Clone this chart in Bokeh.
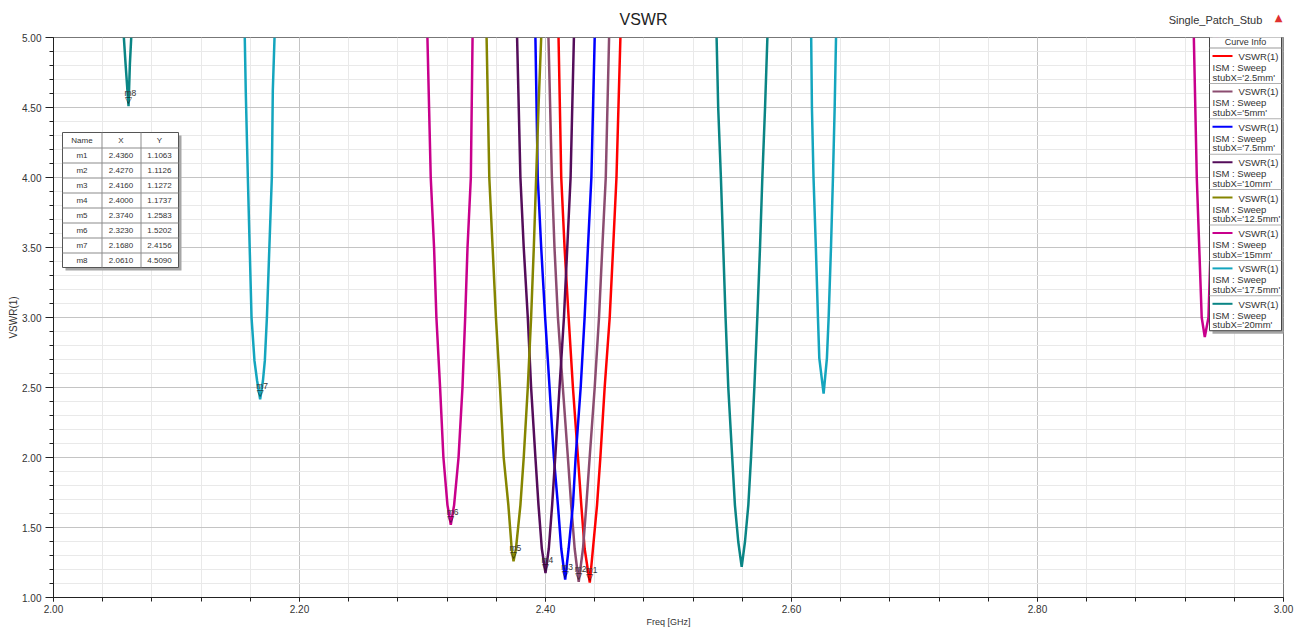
from bokeh.plotting import figure
from bokeh.layouts import column
from bokeh.models import FixedTicker, NumeralTickFormatter, Label, BoxAnnotation, ColumnDataSource
from bokeh.core.properties import value
from bokeh.embed import file_html
from bokeh.resources import INLINE

nan = float("nan")

# ---------------- data ----------------
freq_2p5mm = [2.4106, 2.4128, 2.4155, 2.4188, 2.4223, 2.4264, 2.4291, 2.4318, 2.4360,
              2.4386, 2.4419, 2.4446, 2.4481, 2.4522, 2.4550, 2.4577, 2.4609]
vswr_2p5mm = [5.00, 4.00, 3.50, 3.00, 2.50, 2.00, 1.66, 1.35, 1.1063,
              1.35, 1.66, 2.00, 2.50, 3.00, 3.50, 4.00, 5.00]

freq_5mm = [2.4024, 2.4052, 2.4073, 2.4101, 2.4141, 2.4182, 2.4209, 2.4237, 2.4270,
            2.4305, 2.4332, 2.4359, 2.4400, 2.4435, 2.4462, 2.4490, 2.4517]
vswr_5mm = [5.00, 4.00, 3.50, 3.00, 2.50, 2.00, 1.66, 1.35, 1.1126,
            1.35, 1.66, 2.00, 2.50, 3.00, 3.50, 4.00, 5.00]

freq_7p5mm = [2.3918, 2.3937, 2.3965, 2.3997, 2.4033, 2.4068, 2.4101, 2.4128, 2.4160,
              2.4188, 2.4223, 2.4245, 2.4286, 2.4318, 2.4345, 2.4373, 2.4400]
vswr_7p5mm = [5.00, 4.00, 3.50, 3.00, 2.50, 2.00, 1.66, 1.35, 1.1272,
              1.35, 1.66, 2.00, 2.50, 3.00, 3.50, 4.00, 5.00]

freq_10mm = [2.3769, 2.3796, 2.3823, 2.3856, 2.3883, 2.3918, 2.3943, 2.3970, 2.4000,
             2.4027, 2.4054, 2.4079, 2.4114, 2.4150, 2.4177, 2.4204, 2.4231]
vswr_10mm = [5.00, 4.00, 3.50, 3.00, 2.50, 2.00, 1.66, 1.35, 1.1737,
             1.35, 1.66, 2.00, 2.50, 3.00, 3.50, 4.00, 5.00]

freq_12p5mm = [2.3521, 2.3543, 2.3570, 2.3597, 2.3630, 2.3660, 2.3698, 2.3725, 2.3740,
               2.3760, 2.3796, 2.3823, 2.3856, 2.3883, 2.3905, 2.3924, 2.3943, 2.3965]
vswr_12p5mm = [5.00, 4.00, 3.50, 3.00, 2.50, 2.00, 1.66, 1.35, 1.2583,
               1.35, 1.66, 2.00, 2.50, 3.00, 3.50, 4.00, 4.50, 5.00]

freq_15mm = [2.3040, 2.3067, 2.3094, 2.3113, 2.3143, 2.3170, 2.3203, 2.3230,
             2.3257, 2.3293, 2.3325, 2.3347, 2.3366, 2.3393, 2.3407,
             nan,
             2.9271, 2.9295, 2.9335, 2.9360, 2.9390, 2.9425, 2.9460]
vswr_15mm = [5.00, 4.00, 3.50, 3.00, 2.50, 2.00, 1.66, 1.5202,
             1.66, 2.00, 2.50, 3.00, 3.50, 4.00, 5.00,
             nan,
             5.00, 4.00, 3.00, 2.86, 3.00, 4.00, 5.00]

freq_17p5mm = [2.1555, 2.1563, 2.1580, 2.1610, 2.1634, 2.1655, 2.1680, 2.1703, 2.1718,
               2.1735, 2.1775, 2.1783, 2.1797,
               nan,
               2.6160, 2.6166, 2.6179, 2.6198, 2.6215, 2.6226, 2.6261,
               2.6288, 2.6302, 2.6321, 2.6337, 2.6351, 2.6362]
vswr_17p5mm = [5.00, 4.62, 4.00, 3.00, 2.69, 2.55, 2.4156, 2.55, 2.69,
               3.00, 4.00, 4.62, 5.00,
               nan,
               5.00, 4.50, 4.00, 3.50, 3.00, 2.71, 2.456,
               2.71, 3.00, 3.50, 4.00, 4.50, 5.00]

freq_20mm = [2.0572, 2.0586, 2.0610, 2.0621, 2.0632,
             nan,
             2.5391, 2.5404, 2.5426, 2.5445, 2.5464, 2.5486, 2.5518, 2.5540, 2.5567, 2.5595,
             2.5622, 2.5649, 2.5671, 2.5698, 2.5722, 2.5744, 2.5763, 2.5785, 2.5804]
vswr_20mm = [5.00, 4.81, 4.509, 4.81, 5.00,
             nan,
             5.00, 4.50, 4.00, 3.50, 3.00, 2.50, 2.00, 1.66, 1.40, 1.219,
             1.40, 1.66, 2.00, 2.50, 3.00, 3.50, 4.00, 4.50, 5.00]

series_labels = ["stubX='2.5mm'", "stubX='5mm'", "stubX='7.5mm'", "stubX='10mm'",
                 "stubX='12.5mm'", "stubX='15mm'", "stubX='17.5mm'", "stubX='20mm'"]
series_freq = [freq_2p5mm, freq_5mm, freq_7p5mm, freq_10mm,
               freq_12p5mm, freq_15mm, freq_17p5mm, freq_20mm]
series_vswr = [vswr_2p5mm, vswr_5mm, vswr_7p5mm, vswr_10mm,
               vswr_12p5mm, vswr_15mm, vswr_17p5mm, vswr_20mm]
series_colors = ["#FF0000", "#8B4C70", "#0000FF", "#540D5A",
                 "#858500", "#C8008C", "#14A5BE", "#0A8585"]

marker_names = ["m1", "m2", "m3", "m4", "m5", "m6", "m7", "m8"]
marker_x = [2.4360, 2.4270, 2.4160, 2.4000, 2.3740, 2.3230, 2.1680, 2.0610]
marker_y = [1.1063, 1.1126, 1.1272, 1.1737, 1.2583, 1.5202, 2.4156, 4.5090]

x_major_ticks = [2.0, 2.2, 2.4, 2.6, 2.8, 3.0]
x_minor_ticks = [round(2.0 + 0.04 * i, 2) for i in range(26)]
y_major_ticks = [1.0, 1.5, 2.0, 2.5, 3.0, 3.5, 4.0, 4.5, 5.0]
y_minor_ticks = [round(1.0 + 0.1 * i, 1) for i in range(41)]

X0, X1, Y0, Y1 = 2.0, 3.0, 1.0, 5.0

# ---------------- layout ----------------
W, H = 1300, 629
STRIP = 30                               # height of the header strip figure
FL, FT, FR, FB = 53, 37, 1283, 597      # frame edges in page px
FONT = "Liberation Sans"

# header strip (title texts) -------------------------------------------
top = figure(width=W, height=STRIP, output_backend="svg", toolbar_location=None,
             x_axis_location=None, y_axis_location=None,
             min_border_left=0, min_border_right=0, min_border_top=0, min_border_bottom=0,
             x_range=(0, 1), y_range=(0, 1))
top.outline_line_color = None
top.background_fill_color = "white"
top.border_fill_color = "white"
top.grid.visible = False

# main figure ------------------------------------------------------------
p = figure(width=W, height=H - STRIP, x_range=(X0, X1), y_range=(Y0, Y1),
           output_backend="svg", toolbar_location=None,
           min_border_left=FL, min_border_right=W - FR,
           min_border_top=FT - STRIP, min_border_bottom=H - FB)
p.background_fill_color = "white"
p.border_fill_color = "white"
p.outline_line_color = "#777777"
p.outline_line_width = 1

for ax, maj, mnr in ((p.xaxis[0], x_major_ticks, x_minor_ticks),
                     (p.yaxis[0], y_major_ticks, y_minor_ticks)):
    ax.ticker = FixedTicker(ticks=maj, minor_ticks=mnr)
    ax.formatter = NumeralTickFormatter(format="0.00")
    ax.major_label_text_font = FONT
    ax.major_label_text_font_size = "10px"
    ax.major_label_text_color = "#333333"
    ax.axis_line_color = "#222222"
    ax.major_tick_line_color = "#222222"
    ax.minor_tick_line_color = "#222222"
    ax.major_tick_in = 0
    ax.minor_tick_in = 0
    ax.axis_label_text_font = FONT
    ax.axis_label_text_font_style = "normal"
    ax.axis_label_text_color = "#333333"

p.xaxis.axis_label = "Freq [GHz]"
p.xaxis.axis_label_text_font_size = "9px"
p.xaxis.axis_label_standoff = 1
p.xaxis.major_tick_out = 4
p.xaxis.minor_tick_out = 4
p.xaxis.major_label_standoff = 3

p.yaxis.axis_label = "VSWR(1)"
p.yaxis.axis_label_text_font_size = "10px"
p.yaxis.axis_label_standoff = 0
p.yaxis.major_tick_out = 8
p.yaxis.minor_tick_out = 4
p.yaxis.major_label_standoff = 4

for g in (p.xgrid[0], p.ygrid[0]):
    g.grid_line_color = "#c4c4c4"
    g.grid_line_width = 1
    g.minor_grid_line_color = "#e9e9e9"
    g.minor_grid_line_width = 1

# ---------------- curves ----------------
for fx, vy, col in zip(series_freq, series_vswr, series_colors):
    p.line(fx, vy, line_color=col, line_width=2.5)

# markers
msrc = ColumnDataSource(dict(x=marker_x, y=marker_y, name=marker_names,
                             tri=["\u25bd"] * len(marker_names)))
p.text(x="x", y="y", text="tri", source=msrc, text_font=value("DejaVu Sans"),
       text_font_size="9px", text_color="#111111", text_align="center",
       text_baseline="middle", y_offset=-6)
p.text(x="x", y="y", text="name", source=msrc, text_font=value(FONT),
       text_font_size="8.5px", text_color="#333333", text_align="left",
       text_baseline="middle", x_offset=-4, y_offset=-13)


# annotations placed in canvas pixels of a given figure (page y minus its top)
def box(fig, yoff, l, t, r, b, fill, line=None, lw=1):
    fig.add_layout(BoxAnnotation(left=l, right=r, top=t - yoff, bottom=b - yoff,
                                 left_units="canvas", right_units="canvas",
                                 top_units="canvas", bottom_units="canvas",
                                 fill_color=fill, fill_alpha=1.0 if fill else 0.0,
                                 line_color=line, line_alpha=1.0 if line else 0.0,
                                 line_width=lw))


def label(fig, yoff, px, py, txt, size, color="#333333", align="left", font=FONT):
    fig.add_layout(Label(x=px, y=py - yoff, x_units="canvas", y_units="canvas", text=txt,
                         text_font=font, text_font_size=size, text_color=color,
                         text_align=align, text_baseline="middle"))


# ---------------- marker table ----------------
tl, tr, tt = 62, 178, 132
col_edges = [62, 101, 140, 178]
row_h = 15
nrows = len(marker_names) + 1
tb = tt + row_h * nrows
box(p, STRIP, tl + 3, tt + 3, tr + 3, tb + 3, "#a6a6a6")
box(p, STRIP, tl, tt, tr, tb, "#ffffff", "#555555", 1)
for c in col_edges[1:-1]:
    box(p, STRIP, c, tt, c + 1, tb, "#8c8c8c")
for r in range(1, nrows):
    yy = tt + r * row_h
    box(p, STRIP, tl, yy, tr, yy + 1, "#8c8c8c")
header = ["Name", "X", "Y"]
for j, htxt in enumerate(header):
    label(p, STRIP, (col_edges[j] + col_edges[j + 1]) / 2, tt + row_h / 2 + 0.5, htxt, "8px",
          align="center")
for i, (nm, mx, my) in enumerate(zip(marker_names, marker_x, marker_y)):
    cy = tt + (i + 1) * row_h + row_h / 2 + 0.5
    for j, t in enumerate([nm, "%.4f" % mx, "%.4f" % my]):
        label(p, STRIP, (col_edges[j] + col_edges[j + 1]) / 2, cy, t, "8px", align="center")

# ---------------- legend (Curve Info) ----------------
ll, lr, lt = 1209, 1281, 33
lhead = 47
ent_h = 35.4
lb = lhead + ent_h * len(series_labels)
box(p, STRIP, ll + 3, lt + 3, lr + 3, lb + 3, "#a6a6a6")
box(p, STRIP, ll, lt, lr, lb, "#ffffff", "#444444", 1)
label(p, STRIP, (ll + lr) / 2, 41.5, "Curve Info", "9px", align="center")
box(p, STRIP, ll, lhead, lr, lhead + 1, "#9a9a9a")
for k, (lab, col) in enumerate(zip(series_labels, series_colors)):
    et = lhead + k * ent_h
    if k > 0:
        box(p, STRIP, ll, et, lr, et + 1, "#b0b0b0")
    box(p, STRIP, 1212, et + 7.5, 1232, et + 9.5, col)
    label(p, STRIP, 1278, et + 9, "VSWR(1)", "9.5px", align="right")
    label(p, STRIP, 1212, et + 20, "ISM : Sweep", "9.5px")
    label(p, STRIP, 1212, et + 29.5, lab, "9.5px")

# ---------------- header texts ----------------
label(top, 0, 643, 19, "VSWR", "16px", color="#222222", align="center")
label(top, 0, 1215, 19, "Single_Patch_Stub", "11px", color="#333333", align="center")
label(top, 0, 1278, 17, "\u25b2", "10px", color="#E03030", align="center", font="DejaVu Sans")

layout = column(top, p, spacing=0)
open("out.html", "w").write(file_html(layout, INLINE))
